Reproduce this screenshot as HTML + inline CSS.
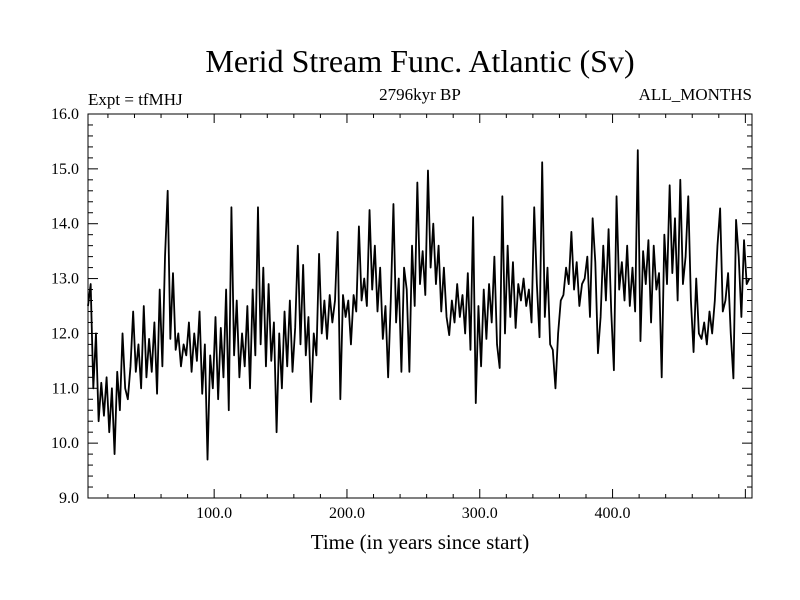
<!DOCTYPE html>
<html><head><meta charset="utf-8"><style>
html,body{margin:0;padding:0;background:#fff;}
svg{display:block;font-family:"Liberation Serif",serif;}
</style></head><body>
<svg id="chart" width="800" height="600" viewBox="0 0 800 600">
<rect width="800" height="600" fill="#fff"/>
<text x="420" y="72" font-size="32" text-anchor="middle">Merid Stream Func. Atlantic (Sv)</text>
<text x="88" y="105" font-size="17">Expt = tfMHJ</text>
<text x="420" y="100" font-size="17" text-anchor="middle">2796kyr BP</text>
<text x="752" y="100" font-size="17" text-anchor="end">ALL_MONTHS</text>
<text x="420" y="549" font-size="21" text-anchor="middle">Time (in years since start)</text>
<g id="axes"></g>
<path id="series" fill="none" stroke="#000" stroke-width="1.8" stroke-linejoin="round"/>
<rect x="88" y="114" width="664" height="384" fill="none" stroke="#000" stroke-width="1"/>
</svg>
<script>
const yTickValues=[9,10,11,12,13,14,15,16];
const xTickValues=[100,200,300,400];
const startYear=5, yearStep=2;
const values=[
12.5,12.9,11.0,12.0,10.4,11.1,10.5,11.2,10.2,11.0,
9.8,11.3,10.6,12.0,11.0,10.8,11.4,12.4,11.3,11.8,
11.0,12.5,11.2,11.9,11.3,12.2,10.9,12.8,11.4,13.4,
14.6,11.9,13.1,11.7,12.0,11.4,11.8,11.6,12.2,11.3,
12.0,11.5,12.4,10.9,11.8,9.7,11.6,11.0,12.3,10.8,
12.1,11.2,12.8,10.6,14.3,11.6,12.6,11.2,12.0,11.4,
12.5,11.0,12.8,11.6,14.3,11.8,13.2,11.4,12.9,11.5,
12.2,10.2,12.0,11.0,12.4,11.4,12.6,11.3,12.1,13.6,
11.8,13.25,11.6,12.3,10.75,12.0,11.6,13.45,12.0,12.6,
11.9,12.7,12.2,12.6,13.85,10.8,12.7,12.3,12.6,11.8,
12.7,12.4,13.95,12.6,13.0,12.5,14.25,12.8,13.6,12.4,
13.2,11.9,12.5,11.2,12.6,14.36,12.2,13.0,11.3,13.2,
12.8,11.3,13.6,12.5,14.75,12.9,13.5,12.7,14.97,13.2,
14.0,12.9,13.6,12.4,13.2,12.3,11.97,12.6,12.2,12.9,
12.3,12.7,12.0,13.1,11.7,14.12,10.73,12.5,11.4,12.8,
11.9,12.9,12.2,13.4,11.8,11.37,14.5,12.0,13.6,12.3,
13.3,12.1,12.9,12.6,13.0,12.5,12.8,12.2,14.3,12.9,
11.93,15.12,12.3,13.2,11.8,11.7,11.0,12.0,12.6,12.7,
13.2,12.9,13.85,12.8,13.3,12.5,12.9,13.0,13.4,12.3,
14.1,13.3,11.64,12.3,13.6,12.6,13.9,12.4,11.33,14.5,
12.8,13.3,12.6,13.6,12.5,13.2,12.4,15.34,11.86,13.5,
12.9,13.7,12.2,13.6,12.8,13.1,11.2,13.8,12.9,14.7,
13.1,14.1,12.6,14.8,12.9,13.4,14.5,12.6,11.66,13.0,
12.0,11.9,12.2,11.8,12.4,12.0,12.6,13.6,14.28,12.4,
12.6,13.1,12.0,11.18,14.07,13.4,12.3,13.7,12.9,13.0
];
const X0=88,X1=752,Y0=498,Y1=114,xMin=5,xMax=505,yMin=9,yMax=16;
function xs(v){return X0+(v-xMin)/(xMax-xMin)*(X1-X0);}
function ys(v){return Y0-(v-yMin)/(yMax-yMin)*(Y0-Y1);}
const NS="http://www.w3.org/2000/svg";
const axes=document.getElementById('axes');
function line(x1,y1,x2,y2,name){
  const l=document.createElementNS(NS,'line');
  l.setAttribute('x1',x1);l.setAttribute('y1',y1);l.setAttribute('x2',x2);l.setAttribute('y2',y2);
  l.setAttribute('stroke','#000');l.setAttribute('stroke-width','1');
  
  
  axes.appendChild(l);
}
function label(x,y,t,anchor,name){
  const e=document.createElementNS(NS,'text');
  e.setAttribute('x',x);e.setAttribute('y',y);e.setAttribute('font-size','16');e.setAttribute('text-anchor',anchor);
  e.textContent=t;
  
  
  axes.appendChild(e);
}
for(let v=yMin;v<=yMax+1e-9;v+=0.2){
  const y=ys(v);const major=Math.abs(v-Math.round(v))<1e-6;const len=major?10:5;
  line(X0,y,X0+len,y,'y-tick');line(X1-len,y,X1,y,'y-tick-right');
}
yTickValues.forEach(v=>label(79,ys(v)+5,v.toFixed(1),'end','y-tick-label'));
for(let v=20;v<xMax;v+=20){
  const x=xs(v);const major=v%100===0;const len=major?9:4;
  line(x,Y0,x,Y0-len,'x-tick');line(x,Y1,x,Y1+len,'x-tick-top');
}
xTickValues.forEach(v=>label(xs(v),518,v.toFixed(1),'middle','x-tick-label'));
let d='';
values.forEach((v,i)=>{d+=(i?'L':'M')+xs(startYear+i*yearStep).toFixed(2)+','+ys(v).toFixed(2);});
document.getElementById('series').setAttribute('d',d);
</script>
</body></html>
